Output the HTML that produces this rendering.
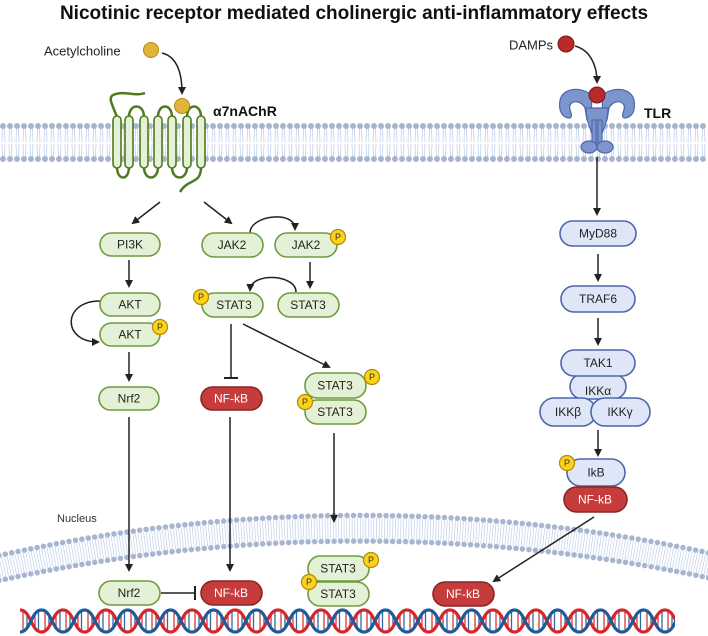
<!DOCTYPE html>
<html><head><meta charset="utf-8"><style>
html,body{margin:0;padding:0;background:#fff;}
svg{display:block;font-family:"Liberation Sans",sans-serif;}
.g{fill:#e5f1d6;stroke:#6d9c3f;stroke-width:1.6;}
.r{fill:#c63b3b;stroke:#8a2626;stroke-width:1.6;}
.b{fill:#dfe6f7;stroke:#4d67ab;stroke-width:1.6;}
.p{fill:#fcd21c;stroke:#b08a00;stroke-width:1.2;}
.t{font-size:12px;fill:#222;text-anchor:middle;dominant-baseline:central;}
.tw{font-size:12px;fill:#fff;text-anchor:middle;dominant-baseline:central;}
.pt{font-size:9px;fill:#333;text-anchor:middle;dominant-baseline:central;}
.a{stroke:#222;stroke-width:1.5;fill:none;marker-end:url(#ah);}
</style></head><body>
<svg width="708" height="636" viewBox="0 0 708 636">
<defs>
<marker id="ah" markerWidth="8" markerHeight="8" refX="6" refY="4" orient="auto" markerUnits="userSpaceOnUse"><path d="M0,0 L8,4 L0,8 Z" fill="#222"/></marker>
<pattern id="tails" width="7" height="30" patternUnits="userSpaceOnUse" x="0" y="128">
<path d="M2.5,0 L2,14 M4.5,0 L5,14 M2,16 L2.5,30 M5,16 L4.5,30" stroke="#b7c8e6" stroke-width="0.7" fill="none"/></pattern>
<pattern id="dna" width="43" height="26" patternUnits="userSpaceOnUse" x="20" y="608">
<g stroke-width="1.3">
<line x1="3" y1="4" x2="3" y2="22" stroke="#d9383c"/><line x1="7" y1="8" x2="7" y2="18" stroke="#2f6aa8"/>
<line x1="15" y1="6" x2="15" y2="20" stroke="#d9383c"/><line x1="18.5" y1="3" x2="18.5" y2="23" stroke="#2f6aa8"/>
<line x1="25" y1="3" x2="25" y2="23" stroke="#d9383c"/><line x1="29" y1="8" x2="29" y2="18" stroke="#2f6aa8"/>
<line x1="36" y1="6" x2="36" y2="20" stroke="#d9383c"/><line x1="40" y1="3" x2="40" y2="23" stroke="#2f6aa8"/>
</g>
<path d="M0,2 C11,2 11,24 21.5,24 C32,24 32,2 43,2" stroke="#d6262b" stroke-width="3.2" fill="none"/>
<path d="M0,24 C11,24 11,2 21.5,2 C32,2 32,24 43,24" stroke="#1f5a99" stroke-width="3.2" fill="none"/>
</pattern>
</defs>

<text x="354" y="19" text-anchor="middle" font-size="19" font-weight="bold" fill="#111">Nicotinic receptor mediated cholinergic anti-inflammatory effects</text>

<!-- plasma membrane -->
<rect x="0" y="128" width="708" height="30" fill="url(#tails)"/>
<line x1="3" y1="126" x2="708" y2="126" stroke="#a8b5cf" stroke-width="6" stroke-linecap="round" stroke-dasharray="0 7"/>
<line x1="3" y1="159" x2="708" y2="159" stroke="#a8b5cf" stroke-width="6" stroke-linecap="round" stroke-dasharray="0 7"/>

<!-- nuclear membrane -->
<path d="M-20,573 A1640,1640 0 0 1 740,573" stroke="#c3d1ea" stroke-width="22" fill="none" stroke-dasharray="0.7 2"/>
<path d="M-20,560 A1640,1640 0 0 1 740,560" stroke="#a8b5cf" stroke-width="5.5" fill="none" stroke-linecap="round" stroke-dasharray="0 6.5"/>
<path d="M-20,585 A1665,1665 0 0 1 740,585" stroke="#a8b5cf" stroke-width="5.5" fill="none" stroke-linecap="round" stroke-dasharray="0 6.5"/>
<text x="57" y="519" font-size="11" fill="#333" dominant-baseline="central">Nucleus</text>

<!-- DNA -->
<rect x="20" y="608" width="655" height="26" fill="url(#dna)"/>

<!-- Acetylcholine / receptor -->
<text x="44" y="51" font-size="13" fill="#222" dominant-baseline="central">Acetylcholine</text>
<circle cx="151" cy="50" r="7.5" fill="#e2b43a" stroke="#b08a1a" stroke-width="1"/>
<path d="M162,53 C178,57 182,75 182,93" class="a"/>
<g fill="none" stroke="#4f7a1f" stroke-width="2.5">
<path d="M117,117 C112,104 108,98 113,95 M113,95 C125,90 135,97 145,93"/>
<path d="M129,117 C129,103 144,103 144,117"/>
<path d="M158,117 C158,103 172,103 172,117"/>
<path d="M187,117 C187,103 201,103 201,117"/>
<path d="M117,167 C117,181 129,181 129,167"/>
<path d="M144,167 C144,181 158,181 158,167"/>
<path d="M172,167 C172,181 187,181 187,167"/>
<path d="M201,167 C201,185 188,178 180,192"/>
</g>
<g fill="#e5f1d6" stroke="#4f7a1f" stroke-width="1.6">
<rect x="113" y="116" width="8" height="52" rx="4"/><rect x="125" y="116" width="8" height="52" rx="4"/>
<rect x="140" y="116" width="8" height="52" rx="4"/><rect x="154" y="116" width="8" height="52" rx="4"/>
<rect x="168" y="116" width="8" height="52" rx="4"/><rect x="183" y="116" width="8" height="52" rx="4"/>
<rect x="197" y="116" width="8" height="52" rx="4"/>
</g>
<circle cx="182" cy="106" r="7.5" fill="#e2b43a" stroke="#b08a1a" stroke-width="1"/>
<text x="213" y="111" font-size="14" font-weight="bold" fill="#111" dominant-baseline="central">α7nAChR</text>

<!-- TLR -->
<text x="509" y="45" font-size="13" fill="#222" dominant-baseline="central">DAMPs</text>
<circle cx="566" cy="44" r="8" fill="#b82a2a" stroke="#7a1616" stroke-width="1"/>
<path d="M575,46 C590,50 597,65 597,82" class="a"/>
<g fill="#7c95cd" stroke="#4d67ab" stroke-width="1.2">
<path d="M592,95 C580,86 563,88 560,100 C558,112 563,118 570,118 C574,115 568,110 570,105 C574,99 582,102 585,108 L587,120 L591,120 Z"/>
<path d="M602,95 C614,86 631,88 634,100 C636,112 631,118 624,118 C620,115 626,110 624,105 C620,99 612,102 609,108 L607,120 L603,120 Z"/>
<path d="M586,108 C586,125 593,130 593,140 L593,145 L601,145 L601,140 C601,130 608,125 608,108 Z"/>
<rect x="592" y="120" width="4" height="30"/><rect x="598" y="120" width="4" height="30"/>
<ellipse cx="589" cy="147" rx="8" ry="6"/><ellipse cx="605" cy="147" rx="8" ry="6"/>
</g>
<circle cx="597" cy="95" r="8" fill="#b82a2a" stroke="#7a1616" stroke-width="1"/>
<text x="644" y="113" font-size="14" font-weight="bold" fill="#111" dominant-baseline="central">TLR</text>

<!-- left arrows -->
<path d="M160,202 L133,223" class="a"/>
<path d="M204,202 L231,223" class="a"/>
<path d="M129,260 L129,286" class="a"/>
<path d="M129,352 L129,380" class="a"/>
<path d="M100,301 C62,301 62,342 98,342" class="a"/>
<path d="M250,233 C250,215 295,210 295,229" class="a"/>
<path d="M310,262 L310,287" class="a"/>
<path d="M296,292 C296,274 251,272 250,290" class="a"/>
<path d="M231,324 L231,377" stroke="#222" stroke-width="1.5"/><line x1="224" y1="378" x2="238" y2="378" stroke="#222" stroke-width="2"/>
<path d="M243,324 L329,367" class="a"/>
<path d="M129,417 L129,570" class="a"/>
<path d="M230,417 L230,570" class="a"/>
<path d="M334,433 L334,521" class="a"/>
<line x1="161" y1="593" x2="194" y2="593" stroke="#222" stroke-width="1.5"/><line x1="195" y1="586" x2="195" y2="600" stroke="#222" stroke-width="2"/>

<!-- right arrows -->
<path d="M597,157 L597,214" class="a"/>
<path d="M598,254 L598,280" class="a"/>
<path d="M598,318 L598,344" class="a"/>
<path d="M598,430 L598,455" class="a"/>
<path d="M594,517 L494,581" class="a"/>

<!-- green boxes -->
<rect class="g" x="100" y="233" width="60" height="23" rx="11.5"/><text class="t" x="130" y="244.5">PI3K</text>
<rect class="g" x="100" y="293" width="60" height="23" rx="11.5"/><text class="t" x="130" y="304.5">AKT</text>
<rect class="g" x="100" y="323" width="60" height="23" rx="11.5"/><text class="t" x="130" y="334.5">AKT</text>
<circle class="p" cx="160" cy="327" r="7.5"/><text class="pt" x="160" y="327">P</text>
<rect class="g" x="99" y="387" width="60" height="23" rx="11.5"/><text class="t" x="129" y="398.5">Nrf2</text>
<rect class="g" x="202" y="233" width="61" height="24" rx="12"/><text class="t" x="232" y="245">JAK2</text>
<rect class="g" x="275" y="233" width="62" height="24" rx="12"/><text class="t" x="306" y="245">JAK2</text>
<circle class="p" cx="338" cy="237" r="7.5"/><text class="pt" x="338" y="237">P</text>
<rect class="g" x="202" y="293" width="61" height="24" rx="12"/><text class="t" x="234" y="305">STAT3</text>
<circle class="p" cx="201" cy="297" r="7.5"/><text class="pt" x="201" y="297">P</text>
<rect class="g" x="278" y="293" width="61" height="24" rx="12"/><text class="t" x="308" y="305">STAT3</text>
<rect class="g" x="305" y="400" width="61" height="24" rx="12"/><text class="t" x="335" y="412">STAT3</text>
<rect class="g" x="305" y="373" width="61" height="25" rx="12"/><text class="t" x="335" y="385.5">STAT3</text>
<circle class="p" cx="372" cy="377" r="7.5"/><text class="pt" x="372" y="377">P</text>
<circle class="p" cx="305" cy="402" r="7.5"/><text class="pt" x="305" y="402">P</text>
<rect class="g" x="99" y="581" width="61" height="24" rx="12"/><text class="t" x="129" y="593">Nrf2</text>
<rect class="g" x="308" y="582" width="61" height="24" rx="12"/><text class="t" x="338" y="594">STAT3</text>
<rect class="g" x="308" y="556" width="61" height="25" rx="12"/><text class="t" x="338" y="568.5">STAT3</text>
<circle class="p" cx="371" cy="560" r="7.5"/><text class="pt" x="371" y="560">P</text>
<circle class="p" cx="309" cy="582" r="7.5"/><text class="pt" x="309" y="582">P</text>

<!-- red boxes -->
<rect class="r" x="201" y="387" width="61" height="23" rx="11.5"/><text class="tw" x="231" y="398.5">NF-kB</text>
<rect class="r" x="201" y="581" width="61" height="24" rx="12"/><text class="tw" x="231" y="593">NF-kB</text>
<rect class="r" x="433" y="582" width="61" height="24" rx="12"/><text class="tw" x="463" y="594">NF-kB</text>

<!-- blue boxes -->
<rect class="b" x="560" y="221" width="76" height="25" rx="12.5"/><text class="t" x="598" y="233.5">MyD88</text>
<rect class="b" x="561" y="286" width="74" height="26" rx="13"/><text class="t" x="598" y="299">TRAF6</text>
<rect class="b" x="570" y="374" width="56" height="25" rx="12.5"/><text class="t" x="598" y="391">IKKα</text>
<rect class="b" x="561" y="350" width="74" height="26" rx="13"/><text class="t" x="598" y="363">TAK1</text>
<rect class="b" x="540" y="398" width="56" height="28" rx="14"/><text class="t" x="568" y="412">IKKβ</text>
<rect class="b" x="591" y="398" width="59" height="28" rx="14"/><text class="t" x="620" y="412">IKKγ</text>
<rect class="b" x="567" y="459" width="58" height="27" rx="13.5"/><text class="t" x="596" y="472.5">IkB</text>
<circle class="p" cx="567" cy="463" r="7.5"/><text class="pt" x="567" y="463">P</text>
<rect class="r" x="564" y="487" width="63" height="25" rx="12.5"/><text class="tw" x="595" y="499.5">NF-kB</text>
</svg>
</body></html>
